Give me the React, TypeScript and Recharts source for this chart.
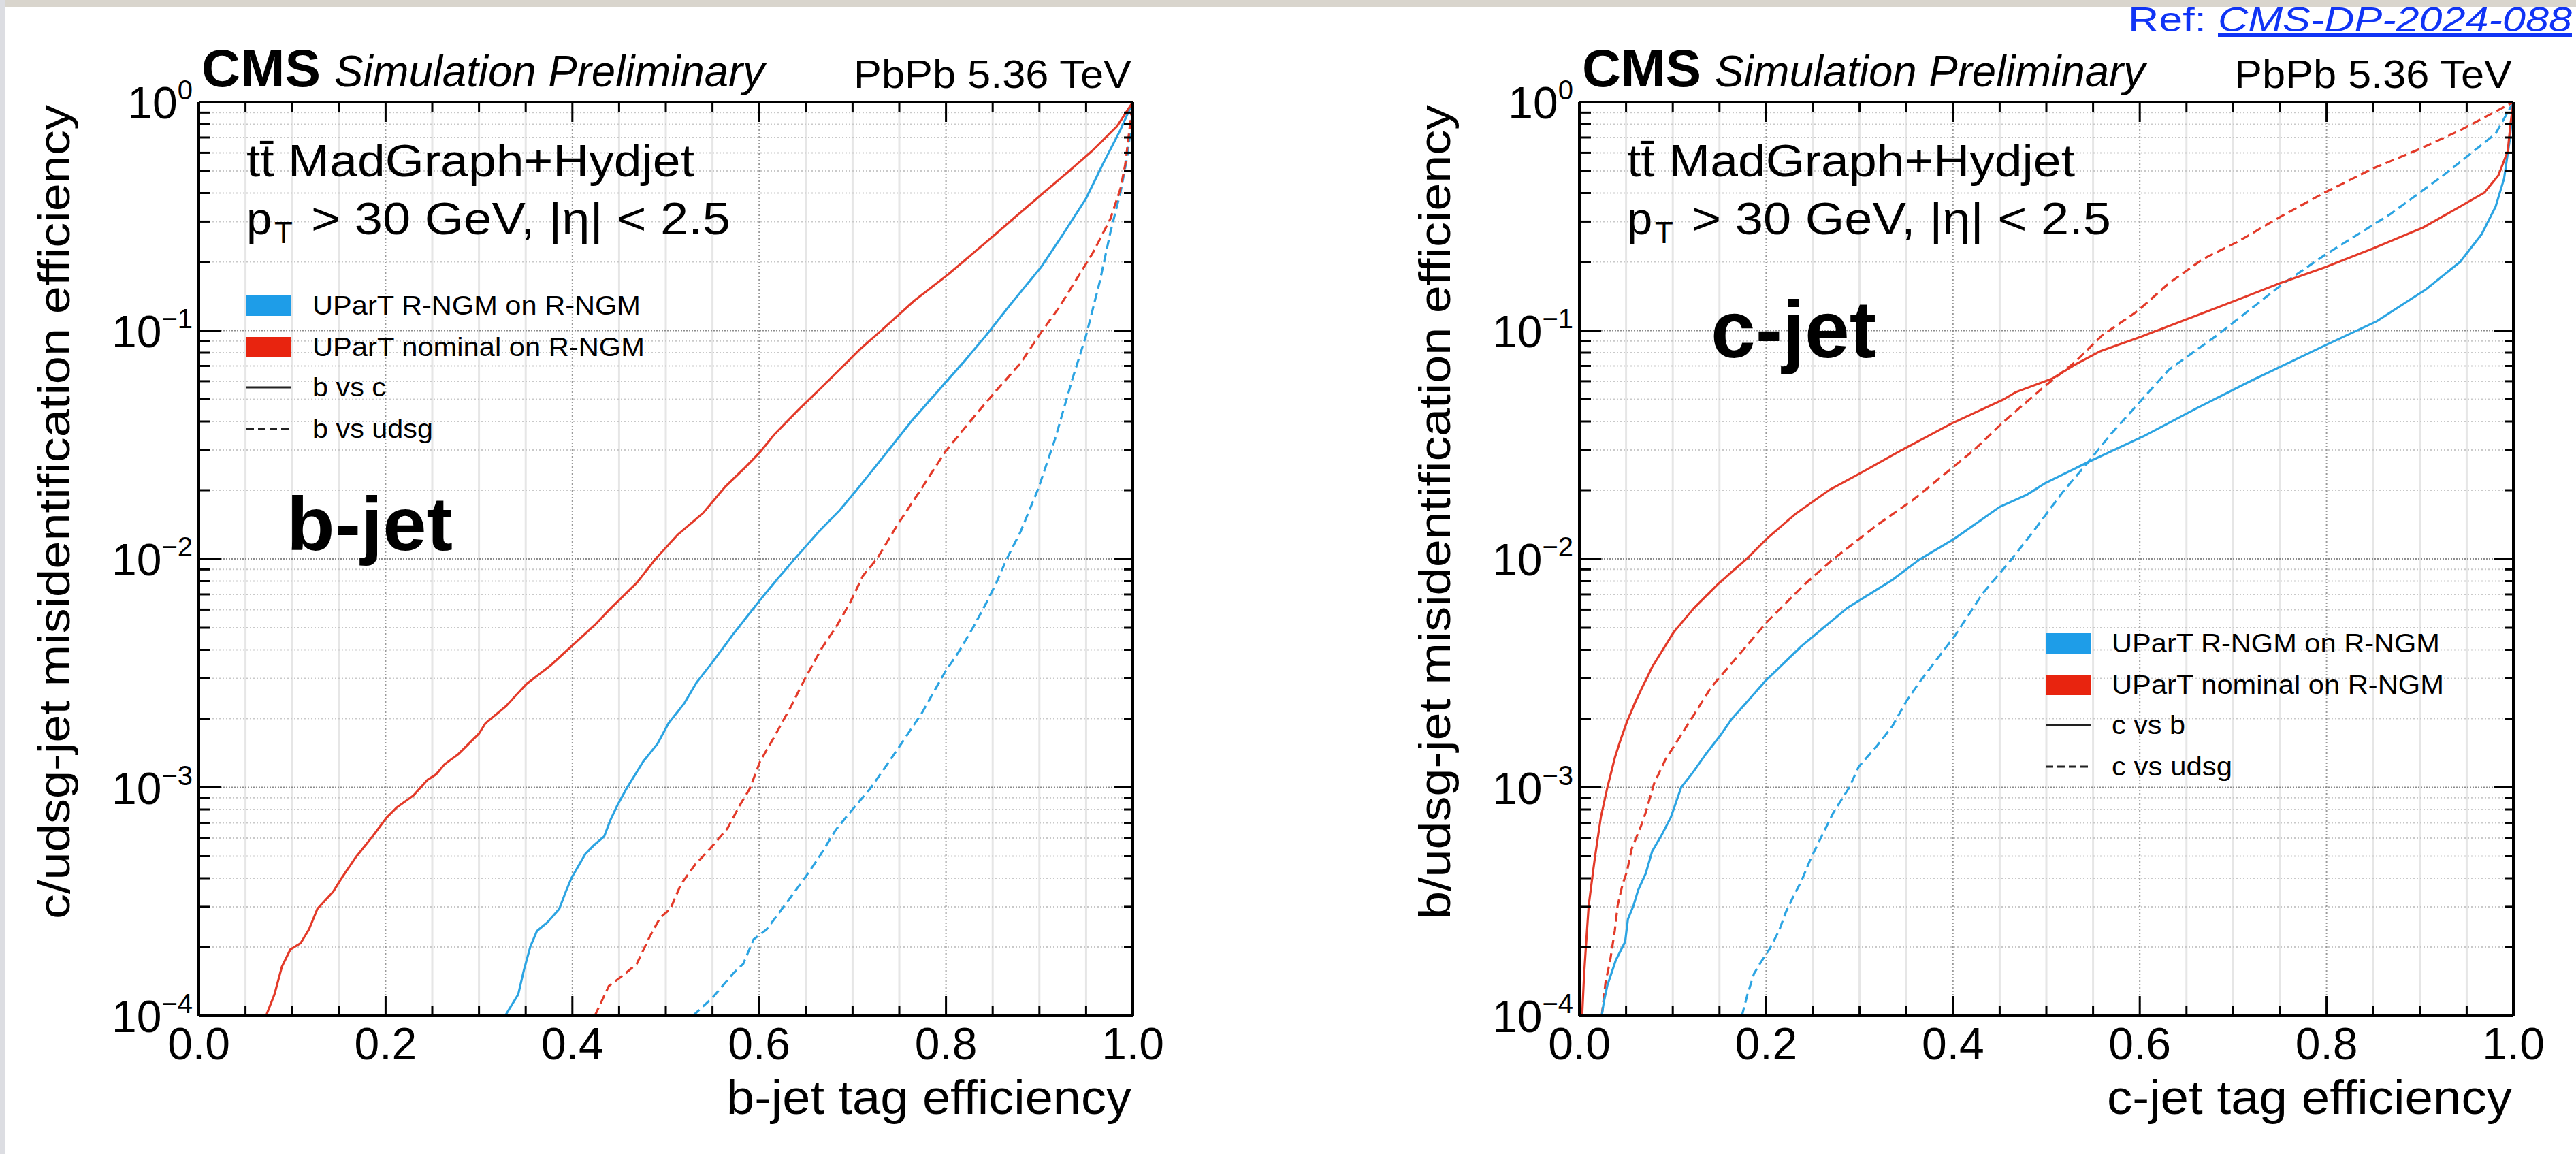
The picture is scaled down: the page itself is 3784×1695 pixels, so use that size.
import React from 'react';
import { LineChart, Line, XAxis, YAxis, CartesianGrid } from 'recharts';

type Pt = [number, number];

// ---------- b-jet panel (x: b-jet tag efficiency, y: c/udsg mis-id) ----------
const bjetBvsCNominal: Pt[] = [
  [0.072, 1.0e-4], [0.081, 1.24e-4], [0.089, 1.64e-4], [0.098, 1.95e-4], [0.109, 2.08e-4], [0.118, 2.39e-4],
  [0.127, 2.94e-4], [0.144, 3.5e-4], [0.153, 4.01e-4], [0.168, 4.94e-4], [0.186, 6.1e-4], [0.201, 7.36e-4],
  [0.212, 8.17e-4], [0.23, 9.23e-4], [0.245, 1.08e-3], [0.254, 1.14e-3], [0.263, 1.26e-3], [0.278, 1.4e-3],
  [0.3, 1.72e-3], [0.307, 1.91e-3], [0.329, 2.27e-3], [0.351, 2.84e-3], [0.377, 3.43e-3], [0.401, 4.22e-3],
  [0.425, 5.19e-3], [0.439, 5.96e-3], [0.469, 7.87e-3], [0.489, 1.0e-2], [0.513, 1.28e-2], [0.54, 1.59e-2],
  [0.564, 2.08e-2], [0.583, 2.47e-2], [0.601, 2.94e-2], [0.616, 3.5e-2], [0.641, 4.45e-2], [0.671, 5.86e-2],
  [0.708, 8.28e-2], [0.733, 0.102], [0.766, 0.135], [0.803, 0.177], [0.829, 0.218], [0.851, 0.26],
  [0.876, 0.319], [0.906, 0.406], [0.932, 0.5], [0.957, 0.615], [0.983, 0.783], [1.0, 1.0],
];
const bjetBvsCRngm: Pt[] = [
  [0.328, 1.0e-4], [0.342, 1.24e-4], [0.348, 1.58e-4], [0.355, 2.01e-4], [0.362, 2.35e-4], [0.373, 2.56e-4],
  [0.386, 2.94e-4], [0.393, 3.5e-4], [0.399, 4.01e-4], [0.414, 5.12e-4], [0.423, 5.58e-4], [0.434, 6.1e-4],
  [0.441, 7.24e-4], [0.448, 8.32e-4], [0.458, 9.89e-4], [0.476, 1.3e-3], [0.491, 1.55e-3], [0.503, 1.91e-3],
  [0.52, 2.34e-3], [0.533, 2.88e-3], [0.549, 3.49e-3], [0.564, 4.22e-3], [0.572, 4.68e-3], [0.601, 6.61e-3],
  [0.619, 8.13e-3], [0.638, 1.0e-2], [0.664, 1.32e-2], [0.686, 1.63e-2], [0.708, 2.09e-2], [0.737, 2.94e-2],
  [0.763, 4.01e-2], [0.792, 5.47e-2], [0.818, 7.21e-2], [0.843, 9.53e-2], [0.869, 0.13], [0.902, 0.19],
  [0.924, 0.259], [0.95, 0.379], [0.968, 0.536], [0.987, 0.759], [1.0, 1.0],
];
const bjetBvsUdsgNominal: Pt[] = [
  [0.424, 1.0e-4], [0.439, 1.35e-4], [0.454, 1.5e-4], [0.469, 1.69e-4], [0.483, 2.23e-4], [0.494, 2.69e-4],
  [0.505, 2.94e-4], [0.516, 3.75e-4], [0.531, 4.57e-4], [0.547, 5.37e-4], [0.566, 6.61e-4], [0.579, 8.32e-4],
  [0.59, 9.89e-4], [0.601, 1.3e-3], [0.616, 1.66e-3], [0.634, 2.26e-3], [0.649, 2.99e-3], [0.667, 4.07e-3],
  [0.682, 5.01e-3], [0.697, 6.4e-3], [0.711, 8.43e-3], [0.726, 1.0e-2], [0.748, 1.41e-2], [0.774, 2.04e-2],
  [0.799, 2.94e-2], [0.829, 4.15e-2], [0.854, 5.47e-2], [0.88, 7.21e-2], [0.902, 9.84e-2], [0.921, 0.126],
  [0.939, 0.166], [0.957, 0.218], [0.976, 0.308], [0.987, 0.421], [0.992, 0.536], [0.996, 0.733], [1.0, 1.0],
];
const bjetBvsUdsgRngm: Pt[] = [
  [0.529, 1.0e-4], [0.55, 1.2e-4], [0.572, 1.53e-4], [0.583, 1.69e-4], [0.594, 2.16e-4], [0.608, 2.39e-4],
  [0.63, 3.15e-4], [0.649, 4.02e-4], [0.664, 4.94e-4], [0.682, 6.52e-4], [0.7, 8.02e-4], [0.719, 9.89e-4],
  [0.737, 1.26e-3], [0.752, 1.55e-3], [0.774, 2.11e-3], [0.799, 3.2e-3], [0.814, 3.94e-3], [0.829, 5.01e-3],
  [0.843, 6.4e-3], [0.854, 7.87e-3], [0.865, 1.0e-2], [0.88, 1.32e-2], [0.899, 2.04e-2], [0.917, 3.37e-2],
  [0.935, 6.07e-2], [0.95, 9.51e-2], [0.965, 0.166], [0.976, 0.269], [0.987, 0.406], [0.994, 0.574],
  [0.998, 0.783], [1.0, 1.0],
];

// ---------- c-jet panel (x: c-jet tag efficiency, y: b/udsg mis-id) ----------
const cjetCvsBNominal: Pt[] = [
  [0.003, 1.0e-4], [0.005, 1.5e-4], [0.007, 2.01e-4], [0.01, 3.04e-4], [0.015, 4.39e-4], [0.017, 5.04e-4],
  [0.023, 7.41e-4], [0.03, 1.0e-3], [0.038, 1.35e-3], [0.044, 1.61e-3], [0.051, 1.94e-3], [0.06, 2.37e-3],
  [0.066, 2.67e-3], [0.078, 3.37e-3], [0.101, 4.78e-3], [0.123, 6.11e-3], [0.149, 7.8e-3], [0.179, 1.0e-2],
  [0.201, 1.23e-2], [0.231, 1.57e-2], [0.268, 2.01e-2], [0.302, 2.39e-2], [0.342, 2.95e-2], [0.398, 3.91e-2],
  [0.454, 4.99e-2], [0.467, 5.37e-2], [0.506, 6.15e-2], [0.531, 7.1e-2], [0.558, 8.13e-2], [0.601, 9.38e-2],
  [0.683, 0.126], [0.75, 0.161], [0.798, 0.189], [0.85, 0.229], [0.903, 0.282], [0.943, 0.349],
  [0.969, 0.402], [0.984, 0.478], [0.994, 0.611], [0.997, 0.809], [1.0, 1.0],
];
const cjetCvsBRngm: Pt[] = [
  [0.024, 1.0e-4], [0.026, 1.14e-4], [0.03, 1.36e-4], [0.039, 1.75e-4], [0.049, 2.11e-4], [0.052, 2.65e-4],
  [0.058, 3.04e-4], [0.063, 3.56e-4], [0.071, 4.19e-4], [0.078, 5.26e-4], [0.088, 6.18e-4], [0.098, 7.41e-4],
  [0.109, 1.0e-3], [0.122, 1.17e-3], [0.136, 1.41e-3], [0.151, 1.69e-3], [0.163, 1.99e-3], [0.18, 2.38e-3],
  [0.199, 2.92e-3], [0.238, 4.16e-3], [0.287, 6.11e-3], [0.335, 8.09e-3], [0.365, 1.0e-2], [0.402, 1.23e-2],
  [0.45, 1.69e-2], [0.479, 1.91e-2], [0.499, 2.15e-2], [0.545, 2.66e-2], [0.605, 3.46e-2], [0.661, 4.57e-2],
  [0.72, 6.05e-2], [0.798, 8.59e-2], [0.854, 0.11], [0.906, 0.151], [0.943, 0.2], [0.966, 0.264],
  [0.981, 0.349], [0.99, 0.462], [0.996, 0.679], [1.0, 1.0],
];
const cjetCvsUdsgNominal: Pt[] = [
  [0.024, 1.0e-4], [0.028, 1.4e-4], [0.033, 1.75e-4], [0.038, 2.37e-4], [0.041, 3.04e-4], [0.046, 3.73e-4],
  [0.051, 4.29e-4], [0.056, 5.38e-4], [0.066, 6.78e-4], [0.071, 7.76e-4], [0.08, 1.04e-3], [0.092, 1.32e-3],
  [0.107, 1.65e-3], [0.124, 2.12e-3], [0.141, 2.74e-3], [0.179, 4.16e-3], [0.201, 5.31e-3], [0.242, 7.8e-3],
  [0.272, 1.0e-2], [0.32, 1.42e-2], [0.357, 1.81e-2], [0.402, 2.56e-2], [0.423, 3.01e-2], [0.454, 3.98e-2],
  [0.497, 5.65e-2], [0.53, 7.24e-2], [0.56, 9.55e-2], [0.598, 0.122], [0.631, 0.161], [0.668, 0.206],
  [0.705, 0.245], [0.75, 0.314], [0.798, 0.402], [0.85, 0.513], [0.899, 0.622], [0.943, 0.753], [1.0, 1.0],
];
const cjetCvsUdsgRngm: Pt[] = [
  [0.174, 1.0e-4], [0.18, 1.24e-4], [0.187, 1.53e-4], [0.194, 1.71e-4], [0.204, 1.97e-4], [0.214, 2.37e-4],
  [0.221, 2.84e-4], [0.228, 3.26e-4], [0.238, 3.91e-4], [0.248, 4.91e-4], [0.26, 6.18e-4], [0.272, 7.76e-4],
  [0.289, 1.0e-3], [0.299, 1.23e-3], [0.318, 1.51e-3], [0.335, 1.85e-3], [0.35, 2.38e-3], [0.365, 2.92e-3],
  [0.402, 4.61e-3], [0.432, 7.08e-3], [0.461, 9.77e-3], [0.486, 1.32e-2], [0.519, 2.0e-2], [0.545, 2.66e-2],
  [0.569, 3.52e-2], [0.594, 4.57e-2], [0.631, 6.73e-2], [0.683, 9.55e-2], [0.754, 0.161], [0.798, 0.214],
  [0.869, 0.325], [0.925, 0.478], [0.981, 0.728], [1.0, 1.0],
];

// ---------- axis ticks / labels ----------
const xTickValues = [0, 0.05, 0.1, 0.15, 0.2, 0.25, 0.3, 0.35, 0.4, 0.45, 0.5, 0.55, 0.6, 0.65, 0.7, 0.75, 0.8, 0.85, 0.9, 0.95, 1];
const xMajorValues = [0, 0.2, 0.4, 0.6, 0.8, 1];
const xMajorLabels = ['0.0', '0.2', '0.4', '0.6', '0.8', '1.0'];
const yDecades = [1e-4, 1e-3, 1e-2, 1e-1, 1];
const yExponentLabels = ['\u22124', '\u22123', '\u22122', '\u22121', '0'];
const yMinorMultipliers = [2, 3, 4, 5, 6, 7, 8, 9];

const yMinorValues = yDecades.slice(0, 4).flatMap((d) => yMinorMultipliers.map((m) => m * d));
const yTickValues = [...yDecades, ...yMinorValues].sort((a, b) => a - b);
const xMinorGrid = xTickValues.filter((v) => !xMajorValues.some((m) => Math.abs(m - v) < 1e-9));
const xMajorGrid = [0.2, 0.4, 0.6, 0.8];
const yMajorGrid = [1e-3, 1e-2, 1e-1];

// ---------- layout / style ----------
const W = 3784;
const H = 1695;
const PLOT_TOP = 150;
const PLOT_BOTTOM = 1492;
const AX = 1; // thickness reserved by each (invisible) axis band
const FONT = "'Liberation Sans', Arial, Helvetica, sans-serif";
const BLUE = '#2ca4e2';
const RED = '#e33a29';
const BLUE_BOX = '#1e9de8';
const RED_BOX = '#e8240f';

const xMajorIndex = (v: number) => xMajorValues.findIndex((m) => Math.abs(m - v) < 1e-9);
const decadeIndex = (v: number) => yDecades.findIndex((d) => Math.abs(Math.log10(d) - Math.log10(v)) < 1e-6);

const BottomTick = (p: any) => {
  const { x, y, payload } = p;
  const i = xMajorIndex(payload.value);
  const major = i >= 0;
  return (
    <g>
      <line x1={x} x2={x} y1={y} y2={y - (major ? 29 : 14)} stroke="#000" strokeWidth={3} />
      {major && (
        <text x={x} y={y + 64} textAnchor="middle" fontSize={66} fontFamily={FONT} fill="#000">
          {xMajorLabels[i]}
        </text>
      )}
    </g>
  );
};
const TopTick = (p: any) => {
  const { x, y, payload } = p;
  const major = xMajorIndex(payload.value) >= 0;
  return <line x1={x} x2={x} y1={y} y2={y + (major ? 29 : 14)} stroke="#000" strokeWidth={3} />;
};
const LeftTick = (p: any) => {
  const { x, y, payload } = p;
  const i = decadeIndex(payload.value);
  const major = i >= 0;
  return (
    <g>
      <line x1={x} x2={x + (major ? 32 : 17)} y1={y} y2={y} stroke="#000" strokeWidth={3} />
      {major && (
        <text x={x - 9} y={y + 24} textAnchor="end" fontFamily={FONT} fill="#000">
          <tspan fontSize={66}>10</tspan>
          <tspan fontSize={40} dy={-28}>{yExponentLabels[i]}</tspan>
        </text>
      )}
    </g>
  );
};
const RightTick = (p: any) => {
  const { x, y, payload } = p;
  const major = decadeIndex(payload.value) >= 0;
  return <line x1={x} x2={x - (major ? 28 : 13)} y1={y} y2={y} stroke="#000" strokeWidth={3} />;
};

const toPts = (a: Pt[]) => a.map(([x, y]) => ({ x, y }));

type Series = { pts: Pt[]; color: string; dashed: boolean; name: string };

function RocPanel({ left, width, plotX0, plotX1, series }: { left: number; width: number; plotX0: number; plotX1: number; series: Series[] }) {
  return (
    <div style={{ position: 'absolute', left, top: 0 }}>
      <LineChart
        width={width}
        height={H}
        margin={{
          top: PLOT_TOP - AX,
          bottom: H - PLOT_BOTTOM - AX,
          left: plotX0 - left - AX,
          right: left + width - plotX1 - AX,
        }}
      >
        <CartesianGrid xAxisId="b" yAxisId="l" horizontal={false} verticalValues={xMinorGrid} stroke="#e6e6e6" strokeWidth={3} />
        <CartesianGrid xAxisId="b" yAxisId="l" vertical={false} horizontalValues={yMinorValues} stroke="#c9c9c9" strokeWidth={2} strokeDasharray="2 3" />
        <CartesianGrid xAxisId="b" yAxisId="l" horizontal={false} verticalValues={xMajorGrid} stroke="#9a9a9a" strokeWidth={2} strokeDasharray="2 3" />
        <CartesianGrid xAxisId="b" yAxisId="l" vertical={false} horizontalValues={yMajorGrid} stroke="#8c8c8c" strokeWidth={2} strokeDasharray="2 2" />
        <XAxis
          xAxisId="b" type="number" dataKey="x" domain={[0, 1]} allowDataOverflow ticks={xTickValues} interval={0}
          height={AX} tickSize={0} tickMargin={0} tickLine={false} tick={BottomTick}
          axisLine={{ stroke: '#000', strokeWidth: 4 }}
        />
        <XAxis
          xAxisId="t" orientation="top" type="number" dataKey="x" domain={[0, 1]} allowDataOverflow ticks={xTickValues} interval={0}
          height={AX} tickSize={0} tickMargin={0} tickLine={false} tick={TopTick}
          axisLine={{ stroke: '#000', strokeWidth: 3 }}
        />
        <YAxis
          yAxisId="l" type="number" dataKey="y" scale="log" domain={[1e-4, 1]} allowDataOverflow ticks={yTickValues} interval={0}
          width={AX} tickSize={0} tickMargin={0} tickLine={false} tick={LeftTick}
          axisLine={{ stroke: '#000', strokeWidth: 4 }}
        />
        <YAxis
          yAxisId="r" orientation="right" type="number" dataKey="y" scale="log" domain={[1e-4, 1]} allowDataOverflow ticks={yTickValues} interval={0}
          width={AX} tickSize={0} tickMargin={0} tickLine={false} tick={RightTick}
          axisLine={{ stroke: '#000', strokeWidth: 4 }}
        />
        {series.map((s) => (
          <Line
            key={s.name}
            xAxisId="b"
            yAxisId="l"
            data={toPts(s.pts)}
            dataKey="y"
            type="linear"
            stroke={s.color}
            strokeWidth={3.2}
            strokeDasharray={s.dashed ? '13 7' : undefined}
            dot={false}
            activeDot={false}
            isAnimationActive={false}
          />
        ))}
      </LineChart>
    </div>
  );
}

const bSeries: Series[] = [
  { pts: bjetBvsUdsgRngm, color: BLUE, dashed: true, name: 'b vs udsg R-NGM' },
  { pts: bjetBvsUdsgNominal, color: RED, dashed: true, name: 'b vs udsg nominal' },
  { pts: bjetBvsCRngm, color: BLUE, dashed: false, name: 'b vs c R-NGM' },
  { pts: bjetBvsCNominal, color: RED, dashed: false, name: 'b vs c nominal' },
];
const cSeries: Series[] = [
  { pts: cjetCvsUdsgRngm, color: BLUE, dashed: true, name: 'c vs udsg R-NGM' },
  { pts: cjetCvsUdsgNominal, color: RED, dashed: true, name: 'c vs udsg nominal' },
  { pts: cjetCvsBRngm, color: BLUE, dashed: false, name: 'c vs b R-NGM' },
  { pts: cjetCvsBNominal, color: RED, dashed: false, name: 'c vs b nominal' },
];

const Txt = (p: any) => {
  const { x, y, size, w, children, bold, italic, anchor, fill, deco, transform } = p;
  return (
    <text
      x={x}
      y={y}
      transform={transform}
      fontSize={size}
      fontFamily={FONT}
      fontWeight={bold ? 'bold' : 'normal'}
      fontStyle={italic ? 'italic' : 'normal'}
      textAnchor={anchor || 'start'}
      fill={fill || '#000'}
      textDecoration={deco}
      textLength={w}
      lengthAdjust={w ? 'spacingAndGlyphs' : undefined}
    >
      {children}
    </text>
  );
};

function PanelText({ dx, flavour, yTitle, xTitle, legendY, legendX, labelX, labelY, labelW, labelSize, lines }: any) {
  const lx = legendX;
  return (
    <g>
      <Txt x={296 + dx} y={127} size={78} w={175} bold>CMS</Txt>
      <Txt x={491 + dx} y={127} size={64} w={632} italic>Simulation Preliminary</Txt>
      <Txt x={1254 + dx} y={129} size={57} w={408}>PbPb 5.36 TeV</Txt>
      <Txt x={362 + dx} y={259} size={67} w={658}>{'tt\u0304 MadGraph+Hydjet'}</Txt>
      <Txt x={362 + dx} y={344} size={67}>p</Txt>
      <Txt x={403 + dx} y={357} size={44}>T</Txt>
      <Txt x={457 + dx} y={344} size={67} w={616}>{'> 30 GeV, |\u03b7| < 2.5'}</Txt>
      <rect x={lx} y={legendY} width={66} height={30} fill={BLUE_BOX} />
      <Txt x={lx + 97} y={legendY + 28} size={38} w={482}>UParT R-NGM on R-NGM</Txt>
      <rect x={lx} y={legendY + 61} width={66} height={30} fill={RED_BOX} />
      <Txt x={lx + 97} y={legendY + 89} size={38} w={488}>UParT nominal on R-NGM</Txt>
      <line x1={lx} x2={lx + 66} y1={legendY + 135} y2={legendY + 135} stroke="#222" strokeWidth={3} />
      <Txt x={lx + 97} y={legendY + 148} size={38} w={108}>{lines[0]}</Txt>
      <line x1={lx} x2={lx + 66} y1={legendY + 196} y2={legendY + 196} stroke="#222" strokeWidth={3} strokeDasharray="11 6" />
      <Txt x={lx + 97} y={legendY + 209} size={38} w={177}>{lines[1]}</Txt>
      <Txt x={labelX} y={labelY} size={labelSize} w={labelW} bold>{flavour}</Txt>
      <Txt x={1662 + dx} y={1636} size={70} w={595} anchor="end">{xTitle}</Txt>
      <Txt x={0} y={0} size={64} w={1196} anchor="middle" transform={`translate(${102 + dx},752) rotate(-90)`}>{yTitle}</Txt>
    </g>
  );
}

export default function App() {
  return (
    <div style={{ position: 'absolute', left: 0, top: 0, width: W, height: H, overflow: 'hidden', background: '#ffffff' }}>
      <svg width={W} height={H} style={{ position: 'absolute', left: 0, top: 0 }}>
        <rect x={0} y={0} width={W} height={10} fill="#d9d5cd" />
        <rect x={0} y={0} width={8} height={H} fill="#dcdde2" />
      </svg>
      <RocPanel left={0} width={1850} plotX0={292} plotX1={1664} series={bSeries} />
      <RocPanel left={1850} width={1934} plotX0={2320} plotX1={3692} series={cSeries} />
      <svg width={W} height={H} style={{ position: 'absolute', left: 0, top: 0, pointerEvents: 'none' }}>
        <PanelText
          dx={0} flavour="b-jet" xTitle="b-jet tag efficiency" yTitle="c/udsg-jet misidentification efficiency"
          legendX={362} legendY={434} labelX={421} labelY={808} labelW={244} labelSize={112} lines={['b vs c', 'b vs udsg']}
        />
        <PanelText
          dx={2028} flavour="c-jet" xTitle="c-jet tag efficiency" yTitle="b/udsg-jet misidentification efficiency"
          legendX={3005} legendY={930} labelX={2513} labelY={525} labelW={243} labelSize={118} lines={['c vs b', 'c vs udsg']}
        />
        <Txt x={3126} y={46} size={50} w={115} fill="#1034f5">Ref:</Txt>
        <Txt x={3258} y={46} size={50} w={520} italic fill="#1034f5" deco="underline">CMS-DP-2024-088</Txt>
      </svg>
    </div>
  );
}
